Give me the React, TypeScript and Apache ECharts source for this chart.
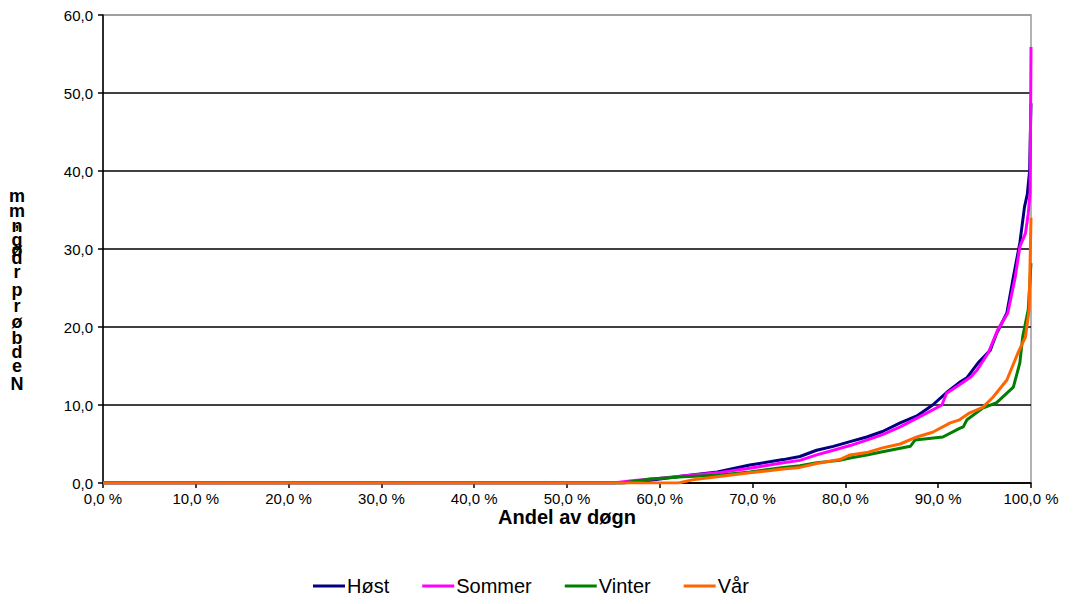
import React, { useEffect, useRef } from "react";
import * as echarts from "echarts";

const seriesNames = ["Høst", "Sommer", "Vinter", "Vår"];
const seriesColors = ["#000080", "#FF00FF", "#008000", "#FF6600"];

const hostX = [0, 56, 58, 60, 62.5, 66.2, 69.7, 73.3, 75.1, 76.9, 78.7, 80.5, 82.3, 84, 85.9, 87.7, 89.4, 90.9, 92.3, 93.1, 94.3, 95.6, 96.3, 97.4, 98.1, 98.8, 99.3, 99.6, 99.85, 100];
const hostY = [0, 0, 0.2, 0.5, 0.9, 1.4, 2.3, 3.0, 3.4, 4.2, 4.7, 5.3, 5.9, 6.6, 7.7, 8.6, 10.0, 11.6, 12.9, 13.5, 15.4, 17.0, 19.2, 21.8, 26.4, 30.8, 35.4, 37.0, 40.0, 48.7];

const sommerX = [0, 55, 57, 60, 62.5, 66.2, 69.7, 73.3, 75.1, 76.9, 78.7, 80.5, 82.3, 84, 85.9, 88.8, 90.4, 90.9, 92.3, 93.5, 94.2, 95.4, 96.4, 97.5, 98.3, 98.8, 99.4, 99.7, 99.9, 100];
const sommerY = [0, 0, 0.3, 0.6, 0.9, 1.3, 1.9, 2.6, 2.9, 3.6, 4.2, 4.8, 5.5, 6.2, 7.2, 9.0, 10.0, 11.5, 12.6, 13.6, 14.5, 16.7, 19.6, 21.8, 26.4, 30.3, 32.0, 34.5, 37.2, 55.9];

const vinterX = [0, 56, 59, 62.5, 66.2, 69.7, 73.3, 75.1, 76.9, 79.4, 80.5, 82.3, 84, 87, 87.5, 90.5, 92.3, 92.7, 93.1, 94.8, 96.3, 98.1, 98.8, 99.1, 99.7, 100];
const vinterY = [0, 0, 0.5, 0.8, 1.0, 1.4, 2.0, 2.2, 2.6, 2.9, 3.2, 3.6, 4.0, 4.7, 5.5, 5.9, 7.0, 7.2, 8.1, 9.6, 10.3, 12.3, 15.4, 18.7, 22.2, 28.2];

const varX = [0, 62, 63.5, 66.2, 69.7, 73.3, 75.1, 76.9, 79.4, 80.5, 82.3, 84, 85.9, 87.7, 89.4, 91.3, 92.3, 93.4, 94.8, 95.9, 97.4, 98.6, 99.4, 99.8, 100];
const varY = [0, 0, 0.4, 0.8, 1.3, 1.8, 2.0, 2.5, 3.0, 3.6, 3.9, 4.5, 5.0, 5.9, 6.5, 7.7, 8.1, 9.0, 9.7, 11.0, 13.2, 16.7, 18.7, 22.2, 34.0];

const xTitle = "Andel av døgn";
const yTitleChars = ["m", "m", ",", "n", "g", "ø", "d", "r", "p", "r", "ø", "b", "d", "e", "N"];
const yTitleY = [196, 211, 222, 226, 240, 250, 258, 272, 290, 306, 322, 338, 352, 366, 384];

const toPairs = (xs: number[], ys: number[]) => xs.map((x, i) => [x, ys[i]]);

export default function App() {
  const ref = useRef<HTMLDivElement>(null);
  useEffect(() => {
    if (!ref.current) return;
    const chart = echarts.init(ref.current, null, { renderer: "svg" });
    const font = "'Liberation Sans', Arial, sans-serif";
    const data = [
      toPairs(hostX, hostY),
      toPairs(sommerX, sommerY),
      toPairs(vinterX, vinterY),
      toPairs(varX, varY),
    ];
    chart.setOption({
      animation: false,
      backgroundColor: "#fff",
      textStyle: { fontFamily: font },
      grid: {
        left: 103,
        right: 42,
        top: 15,
        bottom: 121,
        show: true,
        borderColor: "#999",
        borderWidth: 1.5,
        backgroundColor: "transparent",
      },
      legend: {
        data: seriesNames,
        left: 308,
        top: 571,
        itemGap: 33,
        itemWidth: 32,
        itemHeight: 3,
        icon: "rect",
        textStyle: { fontSize: 20, color: "#000", fontFamily: font, padding: [0, 0, 0, -3] },
      },
      xAxis: {
        type: "value",
        min: 0,
        max: 100,
        interval: 10,
        name: xTitle,
        nameLocation: "middle",
        nameGap: 24,
        nameMoveOverlap: false,
        nameTextStyle: { fontSize: 20, fontWeight: "bold", color: "#000", fontFamily: font },
        axisLine: { show: true, lineStyle: { color: "#000", width: 1.5 } },
        axisTick: { show: true, length: 5, lineStyle: { color: "#000", width: 1.5 } },
        axisLabel: {
          fontSize: 15,
          color: "#000",
          margin: 8,
          formatter: (v: number) => v.toFixed(1).replace(".", ",") + " %",
        },
        splitLine: { show: false },
      },
      yAxis: {
        type: "value",
        min: 0,
        max: 60,
        interval: 10,
        axisLine: { show: true, lineStyle: { color: "#000", width: 1.5 } },
        axisTick: { show: true, length: 5, lineStyle: { color: "#000", width: 1.5 } },
        axisLabel: {
          fontSize: 15,
          color: "#000",
          margin: 10,
          formatter: (v: number) => v.toFixed(1).replace(".", ","),
        },
        splitLine: {
          show: true,
          lineStyle: {
            color: ["#000", "#000", "#000", "#000", "#000", "#000", "#999"],
            width: 1.5,
          },
        },
      },
      graphic: yTitleChars.map((c, i) => ({
        type: "text",
        x: 17,
        y: yTitleY[i],
        style: {
          text: c,
          fontSize: 18,
          fontWeight: "bold",
          fontFamily: font,
          fill: "#000",
          align: "center",
          verticalAlign: "middle",
        },
      })),
      series: seriesNames.map((n, i) => ({
        name: n,
        type: "line",
        data: data[i],
        showSymbol: false,
        symbol: "none",
        lineStyle: { color: seriesColors[i], width: 3 },
        itemStyle: { color: seriesColors[i] },
        z: 2 + i,
      })),
    });
    return () => chart.dispose();
  }, []);
  return <div ref={ref} style={{ position: "fixed", left: 0, top: 0, width: 1073, height: 604 }} />;
}
